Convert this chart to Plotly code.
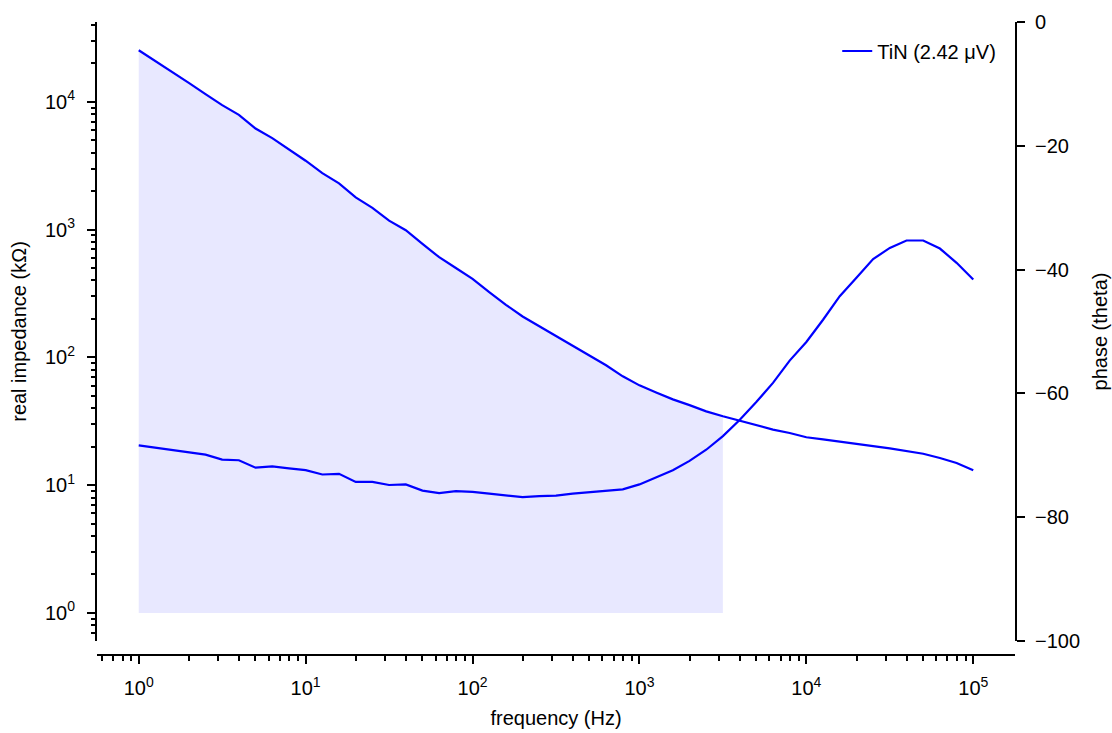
import plotly.graph_objects as go

# frequency sweep (Hz)
frequency_hz = [
    1.0, 1.2589, 1.5849, 1.9953, 2.5119, 3.1623, 3.9811, 5.0119, 6.3096, 7.9433,
    10.0, 12.589, 15.849, 19.953, 25.119, 31.623, 39.811, 50.119, 63.096, 79.433,
    100.0, 125.89, 158.49, 199.53, 251.19, 316.23, 398.11, 501.19, 630.96, 794.33,
    1000.0, 1258.9, 1584.9, 1995.3, 2511.9, 3162.3, 3981.1, 5011.9, 6309.6, 7943.3,
    10000.0, 12589.0, 15849.0, 19953.0, 25119.0, 31623.0, 39811.0, 50119.0, 63096.0, 79433.0,
    100000.0,
]

# real impedance (kOhm)
impedance_kohm = [
    25350, 20890, 17140, 14060, 11480, 9420, 7910, 6180, 5200, 4270,
    3460, 2770, 2300, 1790, 1480, 1175, 989, 773, 608, 501,
    412, 324, 258, 209, 175, 146, 122, 102, 86.7, 71.1,
    60.4, 53.1, 46.9, 42.3, 37.8, 34.6, 31.8, 29.4, 27.2, 25.6,
    23.7, 22.8, 21.8, 20.9, 20.2, 19.4, 18.5, 17.6, 16.3, 14.9,
    13.1,
]

# phase (theta)
phase_deg = [
    -68.4, -68.8, -69.15, -69.5, -69.9, -70.7, -70.8, -72.0, -71.8, -72.1,
    -72.4, -73.1, -73.0, -74.3, -74.3, -74.8, -74.7, -75.7, -76.1, -75.8,
    -75.9, -76.2, -76.5, -76.75, -76.6, -76.5, -76.2, -76.0, -75.8, -75.5,
    -74.7, -73.6, -72.4, -70.9, -69.1, -66.9, -64.3, -61.4, -58.3, -54.7,
    -51.7, -48.1, -44.3, -41.3, -38.3, -36.5, -35.3, -35.3, -36.6, -38.9,
    -41.6,
]

series_name = "TiN (2.42 μV)"
fill_floor_kohm = 1
fill_cutoff_hz = 3162.3

x_major = [1, 10, 100, 1000, 10000, 100000]
x_major_text = ["10<sup>0</sup>", "10<sup>1</sup>", "10<sup>2</sup>",
                "10<sup>3</sup>", "10<sup>4</sup>", "10<sup>5</sup>"]
y_major = [1, 10, 100, 1000, 10000]
y_major_text = ["10<sup>0</sup>", "10<sup>1</sup>", "10<sup>2</sup>",
                "10<sup>3</sup>", "10<sup>4</sup>"]
phase_ticks = [0, -20, -40, -60, -80, -100]
phase_text = ["0", "\u221220", "\u221240", "\u221260", "\u221280", "\u2212100"]


def minor_vals(lo_exp, hi_exp):
    vals = []
    for e in range(lo_exp, hi_exp + 1):
        for m in range(2, 10):
            vals.append(m * 10 ** e)
    return vals


BLUE = "#0000ff"
FONT = "Liberation Sans, Arial, sans-serif"
TICK_SIZE = 20
TITLE_SIZE = 20

fill_x = [f for f in frequency_hz if f <= fill_cutoff_hz]
fill_y = impedance_kohm[:len(fill_x)]
fill_base = [fill_floor_kohm] * len(fill_x)

fig = go.Figure()
fig.add_trace(go.Scatter(x=fill_x, y=fill_base, mode="lines", line=dict(width=0),
                         showlegend=False, hoverinfo="skip", yaxis="y"))
fig.add_trace(go.Scatter(x=fill_x, y=fill_y, mode="lines", line=dict(width=0),
                         fill="tonexty", fillcolor="rgba(0,0,255,0.09)",
                         showlegend=False, hoverinfo="skip", yaxis="y"))
fig.add_trace(go.Scatter(x=frequency_hz, y=impedance_kohm, mode="lines",
                         line=dict(color=BLUE, width=2.2), name=series_name,
                         showlegend=True, yaxis="y"))
fig.add_trace(go.Scatter(x=frequency_hz, y=phase_deg, mode="lines",
                         line=dict(color=BLUE, width=2.2), name=series_name,
                         showlegend=False, yaxis="y2"))

W, H = 1112, 733
ml, mr, mt, mb = 97, 97, 22, 78
plot_h = H - mt - mb
ydom0 = 14 / plot_h

axis_common = dict(showline=True, linecolor="black", linewidth=2, ticks="outside",
                   ticklen=8, tickwidth=1.5, tickcolor="black", showgrid=False,
                   zeroline=False, automargin=False,
                   tickfont=dict(family=FONT, size=TICK_SIZE, color="black"))

fig.update_layout(
    width=W, height=H,
    margin=dict(l=ml, r=mr, t=mt, b=mb, pad=0, autoexpand=False),
    paper_bgcolor="white", plot_bgcolor="white",
    font=dict(family=FONT, size=TICK_SIZE, color="black"),
    xaxis=dict(type="log", range=[-0.25, 5.25], anchor="free", position=0,
               tickmode="array", tickvals=x_major, ticktext=x_major_text,
               ticklabelstandoff=7,
               minor=dict(ticks="outside", ticklen=4.5, tickwidth=1.5, tickcolor="black",
                          tickmode="array", tickvals=minor_vals(-1, 4)),
               title=dict(text="frequency (Hz)", font=dict(family=FONT, size=TITLE_SIZE), standoff=12),
               **axis_common),
    yaxis=dict(type="log", range=[-0.22, 4.625], domain=[ydom0, 1], anchor="x",
               tickmode="array", tickvals=y_major, ticktext=y_major_text,
               ticklabelstandoff=8,
               minor=dict(ticks="outside", ticklen=4.5, tickwidth=1.5, tickcolor="black",
                          tickmode="array", tickvals=minor_vals(-1, 4)),
               title=dict(text="real impedance (kΩ)", font=dict(family=FONT, size=TITLE_SIZE), standoff=13),
               **axis_common),
    yaxis2=dict(range=[-100, 0], domain=[ydom0, 1], overlaying="y", side="right", anchor="x",
                tickmode="array", tickvals=phase_ticks, ticktext=phase_text,
                ticklabelstandoff=6,
                title=dict(text="phase (theta)", font=dict(family=FONT, size=TITLE_SIZE), standoff=14),
                **axis_common),
    legend=dict(x=0.985, y=0.985, xanchor="right", yanchor="top",
                bgcolor="rgba(0,0,0,0)", font=dict(family=FONT, size=TITLE_SIZE)),
    showlegend=True,
)

fig.write_html("out.html")
